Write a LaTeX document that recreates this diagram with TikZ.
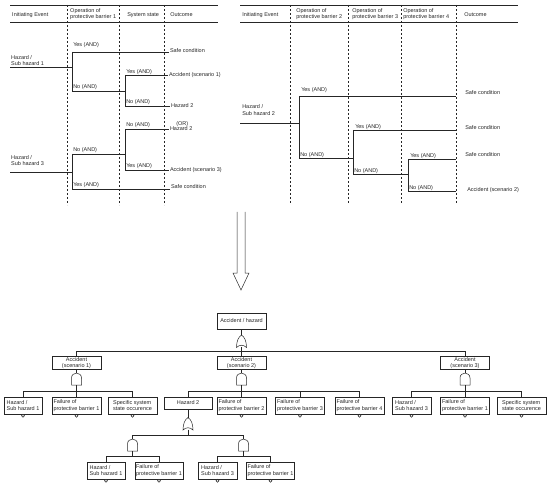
\documentclass[tikz,border=0pt]{standalone}
\usepackage{fontspec}
\setmainfont{Liberation Sans}
\begin{document}
\begin{tikzpicture}[x=1pt,y=-1pt, line width=0.5pt, draw=black!85, text=black!85,
 every node/.style={font=\fontsize{5.5}{6.5}\selectfont, inner sep=0pt},
 dline/.style={dash pattern=on 2pt off 2pt, line width=0.6pt},
 lbl/.style={anchor=west},
 outc/.style={anchor=west, outer sep=1pt},
 ibox/.style={anchor=west, align=left},
 fbox/.style={draw, inner sep=0pt, minimum width=49pt, minimum height=17pt, align=left},
 cbox/.style={draw, inner sep=0pt, minimum width=49pt, minimum height=13pt, align=center},
 andgate/.pic={\draw[fill=white] (-5,12) -- (-5,5) .. controls (-5,-1.5) and (5,-1.5) .. (5,5) -- (5,12) -- cycle;},
 orgate/.pic={\draw[fill=white] (0,0) .. controls (3,2) and (5,6) .. (5,12.5) .. controls (2,9.5) and (-2,9.5) .. (-5,12.5) .. controls (-5,6) and (-3,2) .. (0,0) -- cycle;},
]
\useasboundingbox (0,0) rectangle (550,487);

% ================= left event tree =================
\draw (10,5) -- (218,5);
\draw (10,22.7) -- (218,22.7);
\foreach \x in {67,119,164} \draw[dline] (\x,5) -- (\x,205);
\node[lbl] (lh1) at (12,15) {Initiating Event};
\node[ibox] (lh2) at (70,14) {Operation of\\protective barrier 1};
\node[lbl] (lh3) at (127,15) {System state};
\node[lbl] (lh4) at (170,15) {Outcome};

\node[ibox] (hz1) at (11,60.5) {Hazard /\\Sub hazard 1};
\coordinate (hz1s) at (10,67);
\coordinate (A) at (72,67);
\coordinate (Ay) at (72,52);
\coordinate (An) at (72,91);
\draw (hz1s) -- (A);
\draw (Ay) -- (An);
\node[lbl] at (73,45.5) {Yes (AND)};
\node[outc] (oA1) at (169,50.5) {Safe condition};
\draw (Ay) -- (Ay -| oA1.west);
\node[lbl] at (73,87.5) {No (AND)};
\coordinate (B) at (125,91);
\draw (An) -- (B);
\coordinate (By) at (125,75);
\coordinate (Bn) at (125,106);
\draw (By) -- (Bn);
\node[lbl] at (126,72) {Yes (AND)};
\node[outc] (oB1) at (168,75) {Accident (scenario 1)};
\draw (By) -- (By -| oB1.west);
\node[lbl] at (126,102.5) {No (AND)};
\node[outc] (oB2) at (170,106) {Hazard 2};
\draw (Bn) -- (Bn -| oB2.west);
\node[lbl] (orl) at (176,124.5) {(OR)};

\node[ibox] (hz3) at (11,160.5) {Hazard /\\Sub hazard 3};
\coordinate (hz3s) at (10,172);
\coordinate (C) at (72,172);
\coordinate (Cn) at (72,154);
\coordinate (Cy) at (72,189);
\draw (hz3s) -- (C);
\draw (Cn) -- (Cy);
\coordinate (D) at (125,154);
\draw (Cn) -- (D);
\coordinate (Dn) at (125,129);
\coordinate (Dy) at (125,170);
\draw (Dn) -- (Dy);
\node[lbl] at (73,150.5) {No (AND)};
\node[lbl] at (73,185.5) {Yes (AND)};
\node[outc] (oC1) at (170,186.5) {Safe condition};
\draw (Cy) -- (Cy -| oC1.west);
\node[lbl] at (126,125.5) {No (AND)};
\node[outc] (oD1) at (169,129) {Hazard 2};
\draw (Dn) -- (Dn -| oD1.west);
\node[lbl] at (126,166.5) {Yes (AND)};
\node[outc] (oD2) at (169,170) {Accident (scenario 3)};
\draw (Dy) -- (Dy -| oD2.west);

% ================= right event tree =================
\draw (240,5) -- (518,5);
\draw (240,22.7) -- (518,22.7);
\foreach \x in {290,348,401,456} \draw[dline] (\x,5) -- (\x,204);
\node[lbl] (rh1) at (242,15) {Initiating Event};
\node[ibox] (rh2) at (296,14) {Operation of\\protective barrier 2};
\node[ibox] (rh3) at (352,14) {Operation of\\protective barrier 3};
\node[ibox] (rh4) at (403,14) {Operation of\\protective barrier 4};
\node[lbl] (rh5) at (464,15) {Outcome};
\coordinate (end) at (456,0);

\node[ibox] (hz2) at (242,110) {Hazard /\\Sub hazard 2};
\coordinate (hz2s) at (240,123);
\coordinate (E) at (299,123);
\coordinate (Ey) at (299,96);
\coordinate (En) at (299,158);
\draw (hz2s) -- (E);
\draw (Ey) -- (En);
\draw (Ey) -- (Ey -| end);
\node[lbl] at (301,90) {Yes (AND)};
\node[lbl] (oE1) at (465,93) {Safe condition};
\coordinate (F) at (353,158);
\draw (En) -- (F);
\node[lbl] at (300,155) {No (AND)};
\coordinate (Fy) at (353,130);
\coordinate (Fn) at (353,174);
\draw (Fy) -- (Fn);
\draw (Fy) -- (Fy -| end);
\node[lbl] at (355,127) {Yes (AND)};
\node[lbl] (oF1) at (465,128) {Safe condition};
\coordinate (G) at (408,174);
\draw (Fn) -- (G);
\node[lbl] at (354,171.5) {No (AND)};
\coordinate (Gy) at (408,159);
\coordinate (Gn) at (408,191);
\draw (Gy) -- (Gn);
\draw (Gy) -- (Gy -| end);
\node[lbl] at (410,156) {Yes (AND)};
\node[lbl] (oG1) at (465,155) {Safe condition};
\draw (Gn) -- (Gn -| end);
\node[lbl] at (409,188) {No (AND)};
\node[lbl] (oG2) at (467,190) {Accident (scenario 2)};

% ================= big arrow =================
\draw (237,212) -- (237,273) -- (233,273) -- (241,290) -- (249,273) -- (245,273) -- (245,212);

% ================= fault tree =================
\node[cbox, minimum height=16pt] (top) at (241.5,321) {Accident / hazard};
\coordinate (g0t) at (241.5,335); \coordinate (g0b) at (241.5,347);
\pic at (g0t) {orgate};

\node[cbox] (sc1) at (76.5,363) {Accident\\(scenario 1)};
\node[cbox] (sc2) at (241.5,363) {Accident\\(scenario 2)};
\node[cbox] (sc3) at (465,363) {Accident\\(scenario 3)};
\draw (top.south) -- (g0t);
\draw (g0b) -- (sc2.north);
\draw (sc1.north) -- ++(0,-5) -| (sc3.north);

\coordinate (g1t) at (76.5,373); \coordinate (g1b) at (76.5,385);
\coordinate (g2t) at (241.5,373); \coordinate (g2b) at (241.5,385);
\coordinate (g3t) at (465,373); \coordinate (g3b) at (465,385);
\pic at (g1t) {andgate};
\pic at (g2t) {andgate};
\pic at (g3t) {andgate};
\draw (sc1.south) -- (g1t);
\draw (sc2.south) -- (g2t);
\draw (sc3.south) -- (g3t);

\node[fbox, minimum width=38pt] (b11) at (23,405.5) {Hazard /\\Sub hazard 1};
\node[fbox] (b12) at (76.5,405.5) {Failure of\\protective barrier 1};
\node[fbox] (b13) at (132.5,405.5) {Specific system\\state occurence};
\draw (g1b) -- (b12.north);
\draw (b11.north) -- ++(0,-6) -| (b13.north);

\node[cbox, minimum width=48pt, minimum height=12pt] (h2) at (188,403) {Hazard 2};
\node[fbox] (b22) at (241.5,405.5) {Failure of\\protective barrier 2};
\node[fbox] (b23) at (300,405.5) {Failure of\\protective barrier 3};
\node[fbox] (b24) at (359.5,405.5) {Failure of\\protective barrier 4};
\draw (g2b) -- (b22.north);
\draw (h2.north) -- ++(0,-6) -| (b24.north);
\draw (b23.north) -- ++(0,-6);

\node[fbox, minimum width=39pt] (b31) at (411.5,405.5) {Hazard /\\Sub hazard 3};
\node[fbox] (b32) at (465,405.5) {Failure of\\protective barrier 1};
\node[fbox] (b33) at (521.5,405.5) {Specific system\\state occurence};
\draw (g3b) -- (b32.north);
\draw (b31.north) -- ++(0,-6) -| (b33.north);

% Hazard 2 sub-tree
\coordinate (g4t) at (188,417.5); \coordinate (g4b) at (188,429.5);
\pic at (g4t) {orgate};
\draw (h2.south) -- (g4t);
\coordinate (bus4) at (188,435);
\draw (g4b) -- (bus4);
\coordinate (g5t) at (132.5,439); \coordinate (g5b) at (132.5,451);
\coordinate (g6t) at (243.5,439); \coordinate (g6b) at (243.5,451);
\draw (g5t) -- ++(0,-4) -| (g6t);
\pic at (g5t) {andgate};
\pic at (g6t) {andgate};

\node[fbox, minimum width=38pt] (b51) at (106,470.5) {Hazard /\\Sub hazard 1};
\node[fbox, minimum width=48pt] (b52) at (159,470.5) {Failure of\\protective barrier 1};
\node[fbox, minimum width=39pt] (b61) at (217.5,470.5) {Hazard /\\Sub hazard 3};
\node[fbox, minimum width=48pt] (b62) at (270.5,470.5) {Failure of\\protective barrier 1};
\draw (g5b) -- ++(0,5);
\draw (g6b) -- ++(0,5);
\draw (b51.north) -- ++(0,-6) -| (b52.north);
\draw (b61.north) -- ++(0,-6) -| (b62.north);

\foreach \n in {b11,b12,b13,b22,b23,b24,b31,b32,b33,b51,b52,b61,b62}
  \draw[fill=white] (\n.south) ++(0,1.5) circle[radius=1.5];
\end{tikzpicture}
\end{document}
